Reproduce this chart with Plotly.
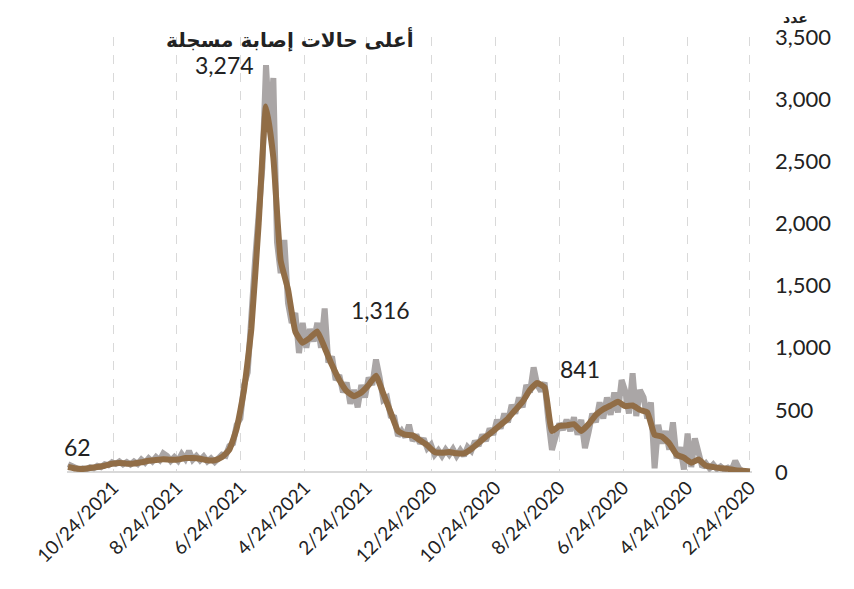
import pandas as pd
import plotly.graph_objects as go

# daily cases, sampled every half week, starting 2020-02-24 (chronological)
daily_start = "2020-02-24"
daily_cases = [
    3, 10, 6, 30, 90, 15, 35, 20, 45, 25, 60, 30, 70, 40, 160, 270, 40, 310, 20, 200,
    110, 400, 180, 330, 230, 380, 30, 560, 430, 600, 660, 450, 795, 470, 650, 740, 480, 640, 460, 600,
    430, 560, 400, 470, 320, 193, 420, 300, 440, 330, 420, 340, 390, 300, 177, 420, 720, 650, 700, 841,
    640, 700, 520, 600, 470, 540, 400, 470, 350, 420, 300, 350, 250, 300, 210, 250, 170, 200, 130, 175,
    130, 185, 140, 180, 130, 175, 140, 220, 190, 270, 230, 300, 250, 380, 280, 330, 290, 440, 450, 600,
    580, 760, 905, 700, 760, 600, 700, 520, 660, 550, 720, 640, 780, 740, 930, 880, 1316, 1000, 1200, 1050,
    1150, 1000, 1199, 957, 1280, 1200, 1360, 1867, 1600, 1850, 3170, 2750, 3274, 2450, 2100, 1700, 1250, 800, 700, 430,
    380, 230, 210, 130, 140, 115, 80, 110, 85, 125, 95, 130, 100, 170, 105, 145, 90, 120, 90, 130,
    150, 95, 120, 85, 110, 75, 100, 65, 85, 60, 80, 62, 85, 65, 78, 55, 62, 40, 50, 30,
    38, 22, 30, 20, 30, 40, 62,
]

# 7-day average, sampled weekly, starting 2020-02-24
avg_cases = [
    5, 10, 15, 25, 30, 40, 50, 100, 75, 115,
    140, 230, 285, 300, 480, 500, 535, 530, 565, 535,
    505, 460, 385, 330, 385, 375, 370, 330, 680, 716,
    660, 566, 499, 430, 380, 330, 285, 235, 185, 150,
    150, 160, 155, 160, 215, 255, 295, 300, 330, 480,
    630, 775, 700, 640, 610, 650, 740, 860, 1000, 1130,
    1080, 1040, 1130, 1470, 1700, 2530, 2940, 2000, 1150, 660,
    350, 180, 120, 95, 95, 107, 112, 113, 100, 98,
    102, 97, 90, 78, 68, 67, 73, 66, 50, 40,
    32, 24, 28, 40,
]

tick_dates = ["2020-02-24", "2020-04-24", "2020-06-24", "2020-08-24", "2020-10-24", "2020-12-24",
              "2021-02-24", "2021-04-24", "2021-06-24", "2021-08-24", "2021-10-24"]
tick_labels = ["2/24/2020", "4/24/2020", "6/24/2020", "8/24/2020", "10/24/2020", "12/24/2020",
               "2/24/2021", "4/24/2021", "6/24/2021", "8/24/2021", "10/24/2021"]

title_text = "أعلى حالات إصابة مسجلة"
unit_text = "عدد"

daily_dates = pd.date_range(daily_start, periods=len(daily_cases), freq="84h")
avg_dates = pd.date_range(daily_start, periods=len(avg_cases), freq="7D")

fig = go.Figure()
fig.add_trace(go.Scatter(x=daily_dates, y=daily_cases, mode="lines",
                         line=dict(color="#aaa6a6", width=6), hoverinfo="skip"))
fig.add_trace(go.Scatter(x=avg_dates, y=avg_cases, mode="lines",
                         line=dict(color="#916d46", width=6, shape="spline", smoothing=0.4)))

label_font = dict(family="Lato, Open Sans, sans-serif", size=23, color="#222222")

# peak labels
peaks = [(3274, "right", -10, 0), (1316, "left", 24, -2), (841, "left", 24, -2)]
for val, anchor, dx, dy in peaks:
    k = daily_cases.index(val)
    fig.add_annotation(x=daily_dates[k], y=val, text=f"{val:,}", showarrow=False,
                       xanchor=anchor, yanchor="middle", xshift=dx, yshift=dy, font=label_font)
fig.add_annotation(x=daily_dates[-1], y=daily_cases[-1], text=str(daily_cases[-1]), showarrow=False,
                   xanchor="left", yanchor="bottom", xshift=-6, yshift=1, font=label_font)

fig.add_annotation(xref="paper", yref="paper", x=0.509, y=0.996, text=f"<b>{title_text}</b>",
                   showarrow=False, xanchor="right", yanchor="middle",
                   font=dict(family="DejaVu Sans, Noto Sans, sans-serif", size=20, color="#222222"))
fig.add_annotation(xref="paper", yref="paper", x=1.063, y=1.022, text=f"<b>{unit_text}</b>",
                   showarrow=False, xanchor="center", yanchor="bottom", borderpad=0,
                   font=dict(family="DejaVu Sans, Noto Sans, sans-serif", size=14, color="#222222"))

fig.update_layout(
    width=854, height=589,
    margin=dict(l=59, r=110, t=29, b=125, autoexpand=False),
    plot_bgcolor="white", paper_bgcolor="white",
    showlegend=False,
    font=label_font,
    xaxis=dict(
        range=[avg_dates[-1] + pd.Timedelta(days=1), pd.Timestamp("2020-02-22")],
        tickvals=pd.to_datetime(tick_dates), ticktext=tick_labels, tickangle=-45,
        showgrid=True, gridcolor="#d9d9d9", griddash="dash", gridwidth=1,
        showline=False, zeroline=False, ticks="", automargin=False,
        tickfont=dict(family="Lato, Open Sans, sans-serif", size=19, color="#222222"),
    ),
    yaxis=dict(
        side="right", range=[0, 3500], dtick=500, tickformat=",",
        showgrid=False, zeroline=True, zerolinecolor="#d9d9d9", zerolinewidth=2,
        showline=False, ticks="", ticklabelstandoff=22, automargin=False,
        tickfont=dict(family="Lato, Open Sans, sans-serif", size=22, color="#222222"),
    ),
)

fig.write_html("out.html")
